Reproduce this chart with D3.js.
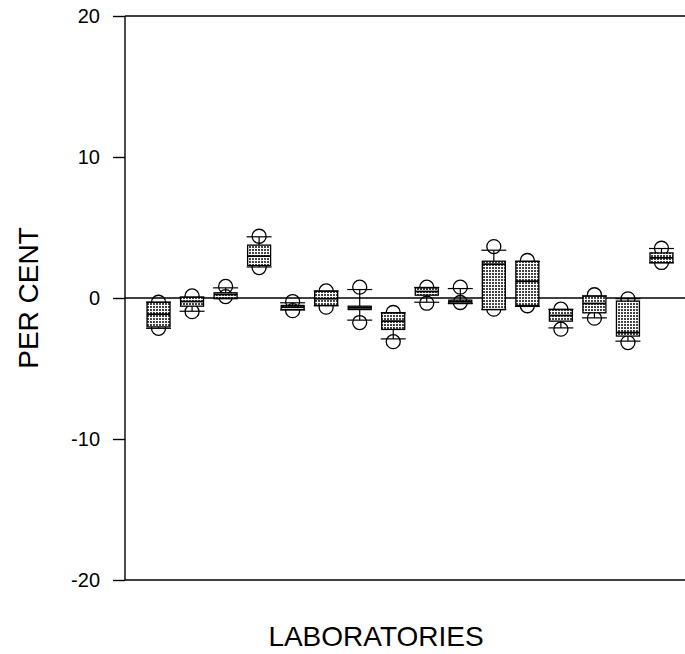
<!DOCTYPE html>
<html>
<head>
<meta charset="utf-8">
<script src="https://cdn.jsdelivr.net/npm/d3@7"></script>
<style>
  body { margin: 0; background: #fff; }
  svg { display: block; }
</style>
</head>
<body>
<script>
// Set up size
var width = 685;
var height = 654;

var labs     = [1, 2, 3, 4, 5, 6, 7, 8, 9, 10, 11, 12, 13, 14, 15, 16];
var lowPt    = [-2.15, -0.97, 0.1, 2.16, -0.9, -0.65, -1.74, -3.1, -0.37, -0.32, -0.79, -0.55, -2.21, -1.43, -3.16, 2.52];
var whiskLo  = [-2.15, -0.94, 0.0, 2.2, -0.85, -0.55, -1.57, -2.9, -0.3, -0.39, -0.82, -0.6, -2.12, -1.41, -3.06, 2.5];
var q1       = [-2.05, -0.58, -0.05, 2.3, -0.82, -0.53, -0.82, -2.23, 0.2, -0.39, -0.82, -0.53, -1.64, -1.05, -2.7, 2.5];
var median   = [-1.15, -0.25, 0.25, 2.97, -0.65, -0.05, -0.7, -1.64, 0.46, -0.27, 2.4, 1.19, -1.24, -0.39, -2.45, 2.85];
var q3       = [-0.3, 0.06, 0.37, 3.75, -0.53, 0.48, -0.58, -1.05, 0.72, -0.15, 2.61, 2.6, -0.82, 0.13, -0.22, 3.2];
var whiskHi  = [-0.3, 0.06, 0.72, 4.34, -0.34, 0.5, 0.6, -1.05, 0.75, 0.67, 3.39, 2.6, -0.8, 0.15, -0.05, 3.51];
var highPt   = [-0.3, 0.15, 0.82, 4.38, -0.25, 0.5, 0.77, -1.03, 0.77, 0.77, 3.65, 2.66, -0.79, 0.23, -0.06, 3.53];
var yTicks   = [-20, -10, 0, 10, 20];

var data = labs.map(function(d, i) {
  return {lab: d, lo: lowPt[i], wlo: whiskLo[i], q1: q1[i], med: median[i],
          q3: q3[i], whi: whiskHi[i], hi: highPt[i]};
});

var plotLeft = 125, plotTop = 16, plotBottom = 580;

var x = d3.scaleLinear().domain([0, 17]).range([plotLeft, 695]);
var y = d3.scaleLinear().domain([-20, 20]).range([plotBottom, plotTop]);

var svg = d3.select('body').append('svg')
  .attr('width', width)
  .attr('height', height)
  .style('font-family', '"Liberation Sans", Arial, sans-serif');

// stipple fill for the boxes
var pat = svg.append('defs').append('pattern')
  .attr('id', 'stipple')
  .attr('patternUnits', 'userSpaceOnUse')
  .attr('width', 3).attr('height', 3);
pat.append('rect').attr('width', 3).attr('height', 3).attr('fill', '#fff');
pat.append('rect').attr('width', 2).attr('height', 2).attr('fill', '#444');

// y axis
var yAxis = d3.axisLeft(y).tickValues(yTicks).tickFormat(String).tickSize(12).tickPadding(13);
var gy = svg.append('g').attr('transform', 'translate(' + plotLeft + ',0)').call(yAxis);
gy.select('.domain').attr('stroke', '#000').attr('stroke-width', 1.4).attr('d', 'M0,' + plotTop + 'V' + plotBottom);
gy.selectAll('.tick line').attr('stroke', '#000').attr('stroke-width', 1.4);
gy.selectAll('.tick text').attr('font-size', 20).attr('fill', '#000')
  .style('font-family', '"Liberation Sans", Arial, sans-serif');

// frame top and bottom, zero line
[20, -20, 0].forEach(function(v) {
  svg.append('line')
    .attr('x1', plotLeft).attr('x2', width)
    .attr('y1', y(v)).attr('y2', y(v))
    .attr('stroke', '#000').attr('stroke-width', 1.4);
});

var bw = 23;   // box width
var cr = 7;    // circle radius

var g = svg.selectAll('g.box').data(data).enter().append('g').attr('class', 'box');

// whiskers
g.append('line')
  .attr('x1', function(d) { return x(d.lab); })
  .attr('x2', function(d) { return x(d.lab); })
  .attr('y1', function(d) { return y(d.wlo); })
  .attr('y2', function(d) { return y(d.whi); })
  .attr('stroke', '#000').attr('stroke-width', 1.2);

// extreme points
g.selectAll('circle')
  .data(function(d) { return [{lab: d.lab, v: d.lo}, {lab: d.lab, v: d.hi}]; })
  .enter().append('circle')
  .attr('cx', function(d) { return x(d.lab); })
  .attr('cy', function(d) { return y(d.v); })
  .attr('r', cr)
  .attr('fill', 'none')
  .attr('stroke', '#000').attr('stroke-width', 1.3);

// boxes
g.append('rect')
  .attr('x', function(d) { return x(d.lab) - bw / 2; })
  .attr('y', function(d) { return y(d.q3); })
  .attr('width', bw)
  .attr('height', function(d) { return Math.max(2, y(d.q1) - y(d.q3)); })
  .attr('fill', 'url(#stipple)')
  .attr('stroke', '#000').attr('stroke-width', 1.3);

// medians
g.append('line')
  .attr('x1', function(d) { return x(d.lab) - bw / 2; })
  .attr('x2', function(d) { return x(d.lab) + bw / 2; })
  .attr('y1', function(d) { return y(d.med); })
  .attr('y2', function(d) { return y(d.med); })
  .attr('stroke', '#000').attr('stroke-width', 1.8);

// whisker caps
g.selectAll('line.cap')
  .data(function(d) { return [{lab: d.lab, v: d.wlo}, {lab: d.lab, v: d.whi}]; })
  .enter().append('line').attr('class', 'cap')
  .attr('x1', function(d) { return x(d.lab) - bw / 2 - 1; })
  .attr('x2', function(d) { return x(d.lab) + bw / 2 + 1; })
  .attr('y1', function(d) { return y(d.v); })
  .attr('y2', function(d) { return y(d.v); })
  .attr('stroke', '#000').attr('stroke-width', 1.2);

// axis titles
svg.append('text')
  .attr('transform', 'translate(38,' + y(0) + ') rotate(-90)')
  .attr('text-anchor', 'middle')
  .attr('font-size', 28)
  .text('PER CENT');

svg.append('text')
  .attr('x', 376).attr('y', 646)
  .attr('text-anchor', 'middle')
  .attr('font-size', 28)
  .text('LABORATORIES');
</script>
</body>
</html>
